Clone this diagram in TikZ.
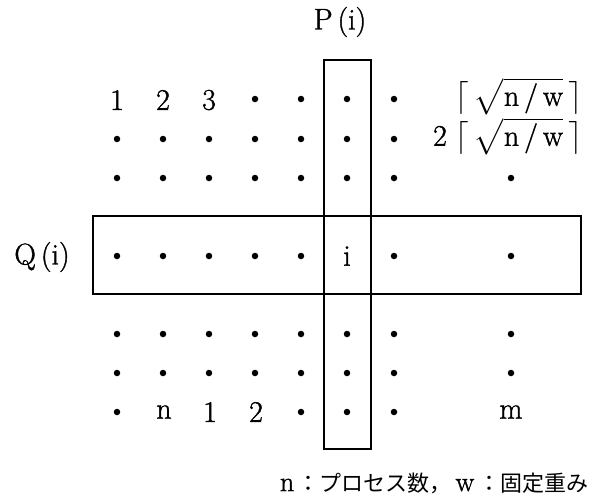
\documentclass[tikz,border=0pt]{standalone}
\usepackage{fontspec}
\usepackage{unicode-math}
\setmainfont{Latin Modern Roman}[FakeBold=1.2]
\newfontfamily\jp{Noto Sans CJK JP}
\begin{document}
\begin{tikzpicture}[x=1pt,y=-1pt,
  dotn/.style={circle,fill=black,inner sep=0pt,minimum size=6.5pt},
  lab/.style={inner sep=0pt,font=\fontsize{30}{32}\selectfont},
  frame/.style={draw=black,line width=1.1pt,inner sep=0pt}]
\useasboundingbox (0,0) rectangle (603,499);
% frames
\node[frame,minimum width=47pt,minimum height=389pt] (Pbox) at (347.5,254.5) {};
\node[frame,minimum width=488pt,minimum height=78pt] (Qbox) at (337,255) {};
% titles
\node[lab] (Plab) at (340,22) {P\,(i)};
\node[lab] (Qlab) at (42,257) {Q\,(i)};
% row 1
\node[lab] (r1c1) at (117,100) {1};
\node[lab] (r1c2) at (163,100) {2};
\node[lab] (r1c3) at (209,100) {3};
\foreach \x/\n in {255/4,301/5,347/6,394/7}
  \node[dotn] (r1c\n) at (\x,99) {};
\node[lab,anchor=east] (r1c8) at (582,97) {$\bigl\lceil\,\sqrt{\mbox{n\,/\,w}}\,\bigr\rceil$};
% rows 2,3,5,6
\foreach \y/\r in {139/2,178/3,334/5,373/6}{
  \foreach \x/\n in {117/1,163/2,209/3,255/4,301/5,347/6,394/7}
    \node[dotn] (r\r c\n) at (\x,\y) {};
}
\node[lab,anchor=east] (r2c8) at (582,137) {2\;$\bigl\lceil\,\sqrt{\mbox{n\,/\,w}}\,\bigr\rceil$};
\foreach \y/\r in {178/3,334/5,373/6}
  \node[dotn] (r\r c8) at (511,\y) {};
% row 4
\foreach \x/\n in {117/1,163/2,209/3,255/4,301/5,394/7,511/8}
  \node[dotn] (r4c\n) at (\x,256) {};
\node[lab] (r4c6) at (347,256) {i};
% row 7
\node[dotn] (r7c1) at (117,412) {};
\node[lab] (r7c2) at (164,412) {n};
\node[lab] (r7c3) at (210,412) {1};
\node[lab] (r7c4) at (256,412) {2};
\foreach \x/\n in {301/5,347/6,394/7}
  \node[dotn] (r7c\n) at (\x,412) {};
\node[lab] (r7c8) at (511,412) {m};
% legend
\node[inner sep=0pt,font=\fontsize{22}{26}\selectfont] (legend) at (434,483)
  {{\fontsize{28}{30}\selectfont n}\,{\jp ：プロセス数，}\,{\fontsize{28}{30}\selectfont w}\,{\jp ：固定重み}};
\end{tikzpicture}
\end{document}
